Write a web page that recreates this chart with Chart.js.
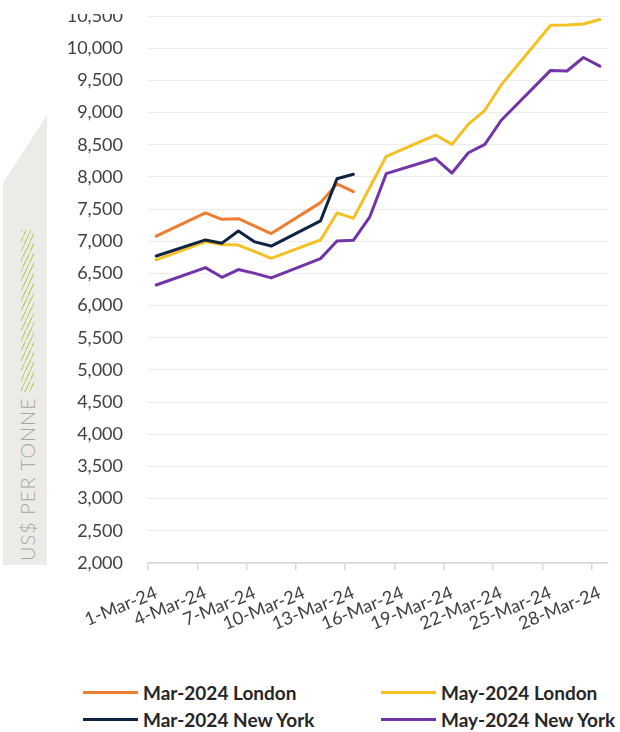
<!DOCTYPE html>
<html>
<head>
<meta charset="utf-8">
<script src="https://cdn.jsdelivr.net/npm/chart.js@4.4.1/dist/chart.umd.min.js"></script>
<style>
  html, body { margin: 0; padding: 0; background: #fff; }
  body { width: 620px; height: 732px; position: relative; overflow: hidden; font-family: Lato, sans-serif; }
  #wrap { position: absolute; left: 0; top: 0; width: 620px; height: 670px; }
  #topCut { position: absolute; left: 0; top: 0; width: 620px; height: 14px; background: #fff; }
  .band {
    position: absolute; left: 3px; top: 115px; width: 44px; height: 450px;
    background: #edebe8;
    clip-path: polygon(100% 0, 100% 100%, 0 100%, 0 68px);
  }
  .ytitle {
    position: absolute; left: 16px; top: 561px;
    transform: rotate(-90deg); transform-origin: 0 0;
    font: 300 20px Lato; line-height: 22px; color: #a6a6a6;
    white-space: nowrap; letter-spacing: 1px;
  }
  .hatch {
    position: absolute; left: 21px; top: 230px; width: 13px; height: 162px;
    background: repeating-linear-gradient(115deg, #c6d07a 0 1.2px, transparent 1.2px 4.2px);
  }
  #legend { position: absolute; left: 0; top: 676px; width: 620px; height: 56px; }
  .item { position: absolute; display: flex; align-items: center; height: 24px;
          font: bold 19px Lato; color: #262626; white-space: nowrap; }
  .swatch { width: 55px; height: 3px; margin-right: 5px; }
</style>
</head>
<body>
<div class="band"></div>
<div class="hatch"></div>
<div class="ytitle">US$ PER TONNE</div>
<div id="wrap"><canvas id="priceChart" width="620" height="670"></canvas></div>
<div id="topCut"></div>
<div id="legend"></div>

<script>
// trading days of March 2024, weekends left empty (null)
const dayLabels = [
  '1-Mar-24', '2-Mar-24', '3-Mar-24', '4-Mar-24', '5-Mar-24', '6-Mar-24', '7-Mar-24',
  '8-Mar-24', '9-Mar-24', '10-Mar-24', '11-Mar-24', '12-Mar-24', '13-Mar-24', '14-Mar-24',
  '15-Mar-24', '16-Mar-24', '17-Mar-24', '18-Mar-24', '19-Mar-24', '20-Mar-24', '21-Mar-24',
  '22-Mar-24', '23-Mar-24', '24-Mar-24', '25-Mar-24', '26-Mar-24', '27-Mar-24', '28-Mar-24'
];

const marLondon = [
  7080, null, null, 7440, 7340, 7350, 7235, 7120, null, null, 7600, 7890, 7770,
  null, null, null, null, null, null, null, null, null, null, null, null, null, null, null
];
const marNewYork = [
  6770, null, null, 7020, 6970, 7160, 6990, 6925, null, null, 7316, 7970, 8040,
  null, null, null, null, null, null, null, null, null, null, null, null, null, null, null
];
const mayLondon = [
  6710, null, null, 6990, 6950, 6940, 6840, 6735, null, null, 7020, 7440, 7355, 7840,
  8320, null, null, 8650, 8505, 8820, 9035, 9430, null, null, 10355, 10360, 10375, 10445
];
const mayNewYork = [
  6320, null, null, 6590, 6440, 6560, 6500, 6430, null, null, 6730, 7005, 7015, 7380,
  8050, null, null, 8285, 8060, 8375, 8505, 8880, null, null, 9655, 9645, 9855, 9720
];

const seriesNames  = ['Mar-2024 London', 'May-2024 London', 'Mar-2024 New York', 'May-2024 New York'];
const seriesColors = ['#ED7D31', '#F5C022', '#0F2343', '#7234A6'];
const seriesOrder  = [1, 2, 0, 3];   // New York March sits on top

const yTicks = { min: 2000, max: 10500, step: 500 };

function lineSet(i, data) {
  return {
    label: seriesNames[i], data,
    borderColor: seriesColors[i], backgroundColor: seriesColors[i],
    borderWidth: 3, pointRadius: 0, tension: 0, spanGaps: true,
    borderJoinStyle: 'round', borderCapStyle: 'round', order: seriesOrder[i]
  };
}

function draw() {
  const chart = new Chart(document.getElementById('priceChart'), {
    type: 'line',
    data: {
      labels: dayLabels,
      datasets: [
        lineSet(0, marLondon),
        lineSet(1, mayLondon),
        lineSet(2, marNewYork),
        lineSet(3, mayNewYork)
      ]
    },
    options: {
      responsive: false, animation: false,
      layout: { padding: { top: 16, right: 3, left: 0, bottom: 0 } },
      plugins: { legend: { display: false }, tooltip: { enabled: false } },
      scales: {
        x: {
          offset: true,
          grid: {
            drawOnChartArea: false, drawTicks: true, tickLength: 7, offset: true, lineWidth: 1.5,
            color: ctx => (ctx.index % 3 === 0 ? '#d9d9d9' : 'rgba(0,0,0,0)')
          },
          border: { display: true, color: '#d9d9d9', width: 1.5 },
          ticks: {
            autoSkip: false, minRotation: 22, maxRotation: 22, padding: 12,
            color: '#404040', font: { family: 'Lato', size: 18 },
            callback: (v, i) => (i % 3 === 0 ? dayLabels[i] : '')
          },
          afterFit: s => { s.height = 107; }
        },
        y: {
          min: yTicks.min, max: yTicks.max,
          ticks: {
            stepSize: yTicks.step, padding: 3, color: '#404040',
            font: { family: 'Lato', size: 18 },
            callback: v => v.toLocaleString('en-US')
          },
          // long invisible tick marks keep the labels clear of the plot
          grid: { color: '#ececec', lineWidth: 1, drawTicks: true, tickLength: 22, tickColor: 'rgba(0,0,0,0)' },
          border: { display: false },
          afterFit: s => { s.width = 148; }
        }
      }
    }
  });

  // legend: two columns, London on the first row, New York on the second
  const legend = document.getElementById('legend');
  const colX = [83, 381];
  const rowY = [4, 31];
  chart.data.datasets.forEach((ds, i) => {
    const item = document.createElement('div');
    item.className = 'item';
    item.style.left = colX[i % 2] + 'px';
    item.style.top  = rowY[Math.floor(i / 2)] + 'px';
    const sw = document.createElement('span');
    sw.className = 'swatch';
    sw.style.background = ds.borderColor;
    item.appendChild(sw);
    item.appendChild(document.createTextNode(ds.label));
    legend.appendChild(item);
  });
}

Promise.all([
  document.fonts.load('18px Lato'),
  document.fonts.load('bold 19px Lato'),
  document.fonts.load('300 20px Lato')
]).then(draw, draw);
</script>
</body>
</html>
